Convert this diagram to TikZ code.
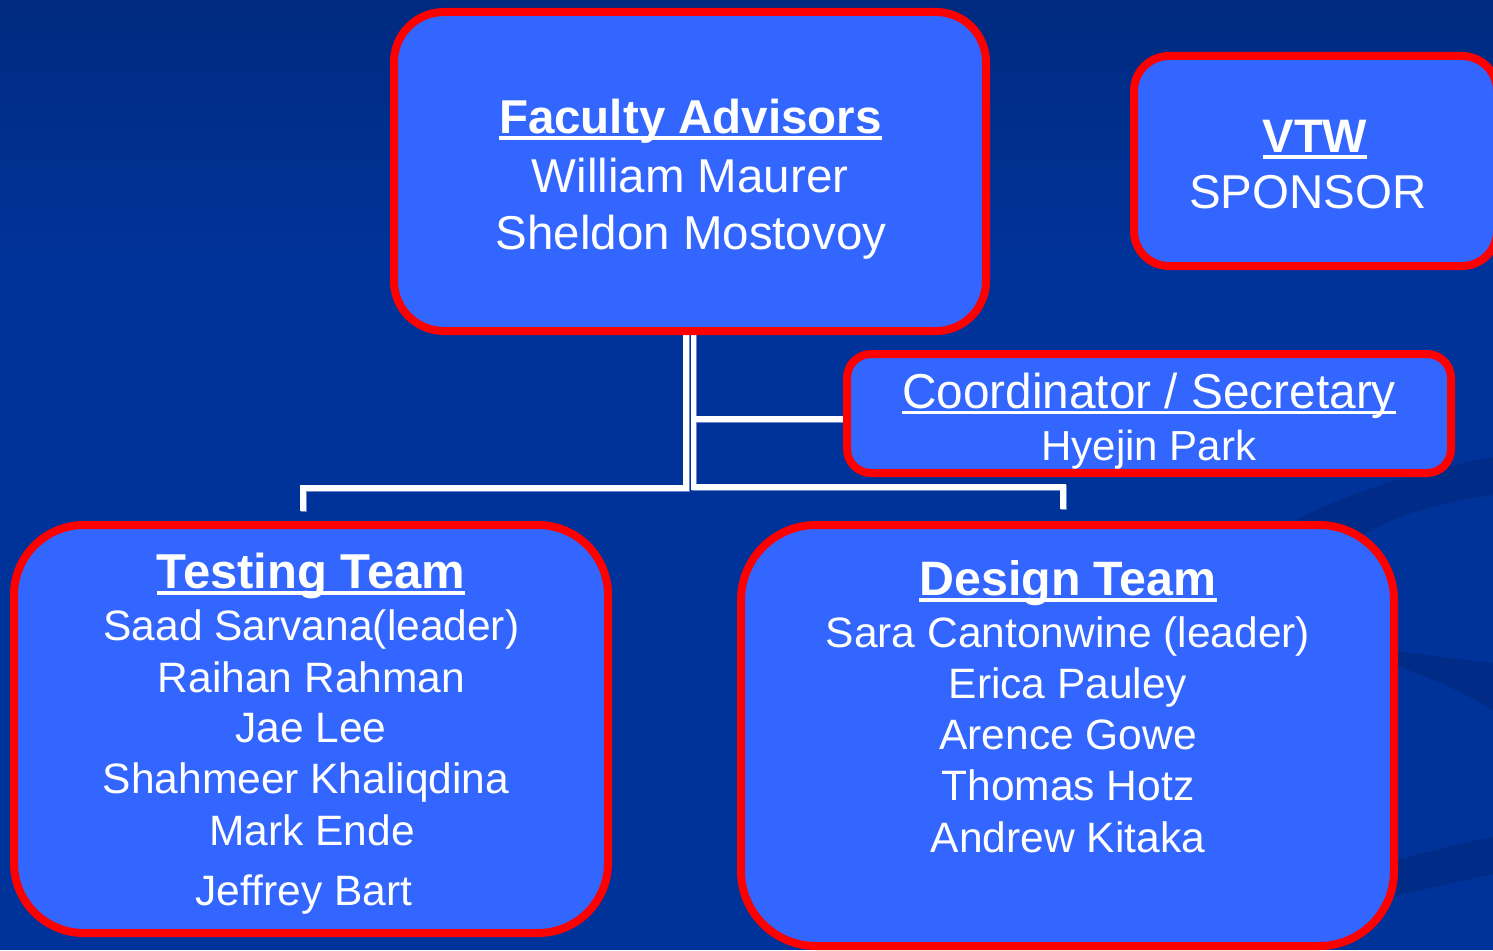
\documentclass[tikz,border=0pt]{standalone}
\usepackage{fontspec}
\setmainfont{Liberation Sans}
\usetikzlibrary{calc}

\definecolor{bgblue}{RGB}{0,51,153}
\definecolor{bgtop}{RGB}{0,42,128}
\definecolor{swirl}{RGB}{0,44,136}
\definecolor{boxblue}{RGB}{51,102,255}
\definecolor{boxred}{RGB}{255,0,0}
\definecolor{wireshade}{RGB}{105,135,205}

% underline at a fixed offset below the baseline: #1 = raise, #2 = thickness
\newcommand\ulin[3]{\setbox0\hbox{#3}\rlap{\rule[#1]{\wd0}{#2}}\box0}

\tikzset{
  orgbox/.style={draw=boxred, fill=boxblue, line width=8pt, inner sep=0pt, outer sep=0pt},
  wire/.style={draw=white, line width=5.5pt},
  wireshadow/.style={draw=wireshade, line width=5.5pt},
  head/.style={text=white, anchor=base, inner sep=0pt, font=\bfseries\fontsize{47.5}{57}\selectfont},
  big/.style={text=white, anchor=base, inner sep=0pt, font=\fontsize{47.5}{57}\selectfont},
  person/.style={text=white, anchor=base, inner sep=0pt, font=\fontsize{42.5}{51}\selectfont},
}

\begin{document}
\begin{tikzpicture}[x=1pt, y=-1pt]
  % background
  \fill[bgblue] (0,0) rectangle (1493,950);
  \shade[top color=bgtop, bottom color=bgblue] (0,0) rectangle (1493,260);
  \useasboundingbox (0,0) rectangle (1493,950);

  % swirls on the right
  \fill[swirl] (1295,520) .. controls (1360,488) and (1430,468) .. (1500,456)
     -- (1500,494) .. controls (1440,502) and (1400,514) .. (1365,534) -- cycle;
  \fill[swirl] (1396,651) .. controls (1430,655) and (1465,660) .. (1500,664)
     -- (1500,714) .. controls (1460,692) and (1430,676) .. (1396,666) -- cycle;
  \fill[swirl] (1396,860) .. controls (1430,851) and (1465,843) .. (1500,835)
     -- (1500,873) .. controls (1465,880) and (1430,888) .. (1396,896) -- cycle;

  % box outlines are placed first so the connectors can refer to them
  \path (690,171.5) node[inner sep=0pt, minimum width=592pt, minimum height=319pt] (facA) {};
  \path (1149,413.5) node[inner sep=0pt, minimum width=604pt, minimum height=119pt] (crdA) {};

  % connector junctions and free ends
  \coordinate (jl) at (686,488);
  \coordinate (el) at (303,511);
  \coordinate (jr) at (693.5,487);
  \coordinate (er) at (1063,509);
  \coordinate (jc) at (693.5,419);

  % connectors, drawn beneath the boxes
  \draw[wireshadow, transform canvas={shift={(0.8pt,-0.8pt)}}] (facA.south -| jl) -- (jl) -- (jl -| el) -- (el);
  \draw[wireshadow, transform canvas={shift={(0.8pt,-0.8pt)}}] (facA.south -| jr) -- (jr) -- (jr -| er) -- (er);
  \draw[wireshadow, transform canvas={shift={(0.8pt,-0.8pt)}}] (jc) -- (jc -| crdA.west);
  \draw[wire] (facA.south -| jl) -- (jl) -- (jl -| el) -- (el);
  \draw[wire] (facA.south -| jr) -- (jr) -- (jr -| er) -- (er);
  \draw[wire] (jc) -- (jc -| crdA.west);

  % boxes
  \node[orgbox, rounded corners=50pt, minimum width=592pt, minimum height=319pt] (fac) at (facA) {};
  \node[orgbox, rounded corners=35pt, minimum width=363pt, minimum height=210pt] (vtw) at (1315.5,161) {};
  \node[orgbox, rounded corners=24pt, minimum width=604pt, minimum height=119pt] (crd) at (crdA) {};
  \node[orgbox, rounded corners=70pt, minimum width=594pt, minimum height=408pt] (tst) at (311,729) {};
  \node[orgbox, rounded corners=75pt, minimum width=653pt, minimum height=421pt] (dsn) at (1067.5,735.5) {};

  % Faculty Advisors
  \node[head] (facH) at (690.5,133) {\ulin{-0.15em}{0.08em}{Faculty Advisors}};
  \node[big]  (fac1) at (690,192) {William Maurer};
  \node[big]  (fac2) at (691,249) {Sheldon Mostovoy};

  % VTW sponsor
  \node[head, font=\bfseries\fontsize{47}{57}\selectfont] (vtwH) at (1315,152) {\ulin{-0.15em}{0.08em}{VTW}};
  \node[big]  (vtw1) at (1308,208) {SPONSOR};

  % Coordinator / Secretary
  \node[big, font=\fontsize{49}{57}\selectfont, xscale=0.975] (crdH) at (1149,408) {\ulin{-0.125em}{0.06em}{Coordinator / Secretary}};
  \node[person, font=\fontsize{42}{51}\selectfont] (crd1) at (1149,460) {Hyejin Park};

  % Testing Team
  \node[head, font=\bfseries\fontsize{49}{57}\selectfont] (tstH) at (311,588) {\ulin{-0.15em}{0.08em}{Testing Team}};
  \node[person] (tst1) at (311.5,640) {Saad Sarvana(leader)};
  \node[person] (tst2) at (311.5,692) {Raihan Rahman};
  \node[person] (tst3) at (311,742) {Jae Lee};
  \node[person] (tst4) at (306,793) {Shahmeer Khaliqdina};
  \node[person] (tst5) at (312,845) {Mark Ende};
  \node[person] (tst6) at (304,905) {Jeffrey Bart};

  % Design Team
  \node[head, font=\bfseries\fontsize{48.3}{57}\selectfont] (dsnH) at (1068,595) {\ulin{-0.15em}{0.08em}{Design Team}};
  \node[person] (dsn1) at (1068,647) {Sara Cantonwine (leader)};
  \node[person] (dsn2) at (1068,698) {Erica Pauley};
  \node[person] (dsn3) at (1068,749) {Arence Gowe};
  \node[person] (dsn4) at (1068,800) {Thomas Hotz};
  \node[person] (dsn5) at (1068,852) {Andrew Kitaka};
\end{tikzpicture}
\end{document}
